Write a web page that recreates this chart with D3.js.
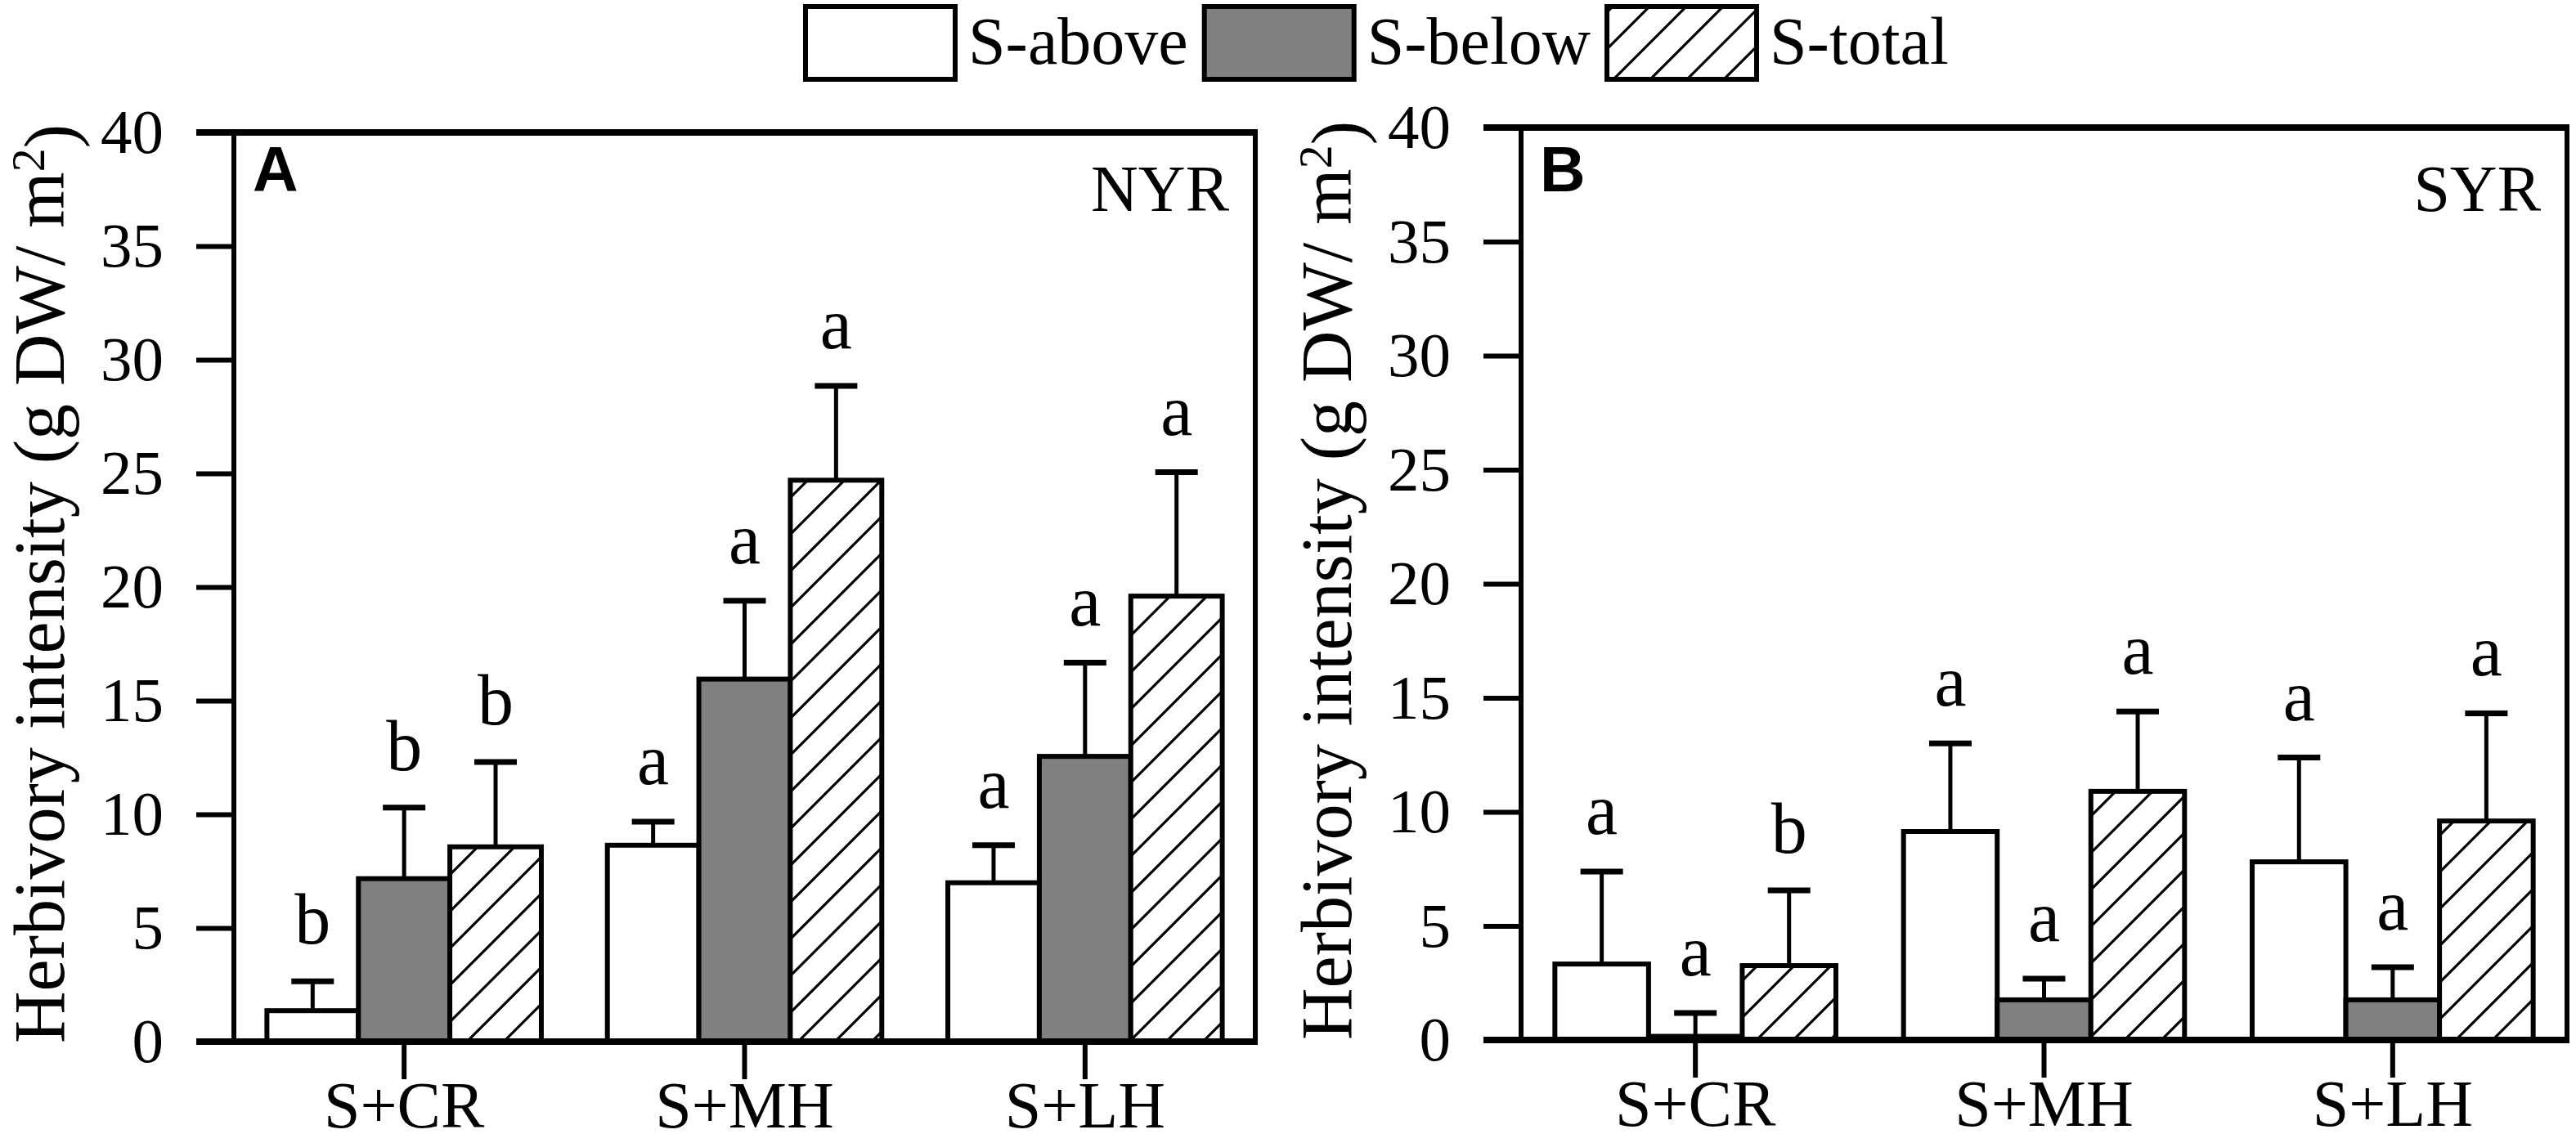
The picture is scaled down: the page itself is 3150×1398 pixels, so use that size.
<!DOCTYPE html>
<html>
<head>
<meta charset="utf-8">
<script src="https://cdn.jsdelivr.net/npm/d3@7"></script>
<style>
  body { margin: 0; background: #fff; }
</style>
</head>
<body>
<div id="chart"></div>
<script>
const categories = ['S+CR', 'S+MH', 'S+LH'];
const seriesNames = ['S-above', 'S-below', 'S-total'];
const yTickValues = [0, 5, 10, 15, 20, 25, 30, 35, 40];

// panel A, NYR
const nyrAbove = [1.36, 8.64, 6.99];
const nyrAboveErr = [1.29, 1.04, 1.65];
const nyrBelow = [7.17, 15.95, 12.55];
const nyrBelowErr = [3.13, 3.45, 4.12];
const nyrTotal = [8.57, 24.7, 19.6];
const nyrTotalErr = [3.73, 4.15, 5.45];
const nyrAboveSig = ['b', 'a', 'a'];
const nyrBelowSig = ['b', 'a', 'a'];
const nyrTotalSig = ['b', 'a', 'a'];

// panel B, SYR
const syrAbove = [3.33, 9.14, 7.81];
const syrAboveErr = [4.05, 3.86, 4.57];
const syrBelow = [0.16, 1.76, 1.76];
const syrBelowErr = [1.02, 0.93, 1.43];
const syrTotal = [3.26, 10.9, 9.6];
const syrTotalErr = [3.3, 3.5, 4.72];
const syrAboveSig = ['a', 'a', 'a'];
const syrBelowSig = ['a', 'a', 'a'];
const syrTotalSig = ['b', 'a', 'a'];

const SERIF = '"Liberation Serif", "Times New Roman", serif';
const SANS = '"Liberation Sans", Arial, sans-serif';
const GREY = '#808080';

function buildRows(means, errs, sigs){
  const rows = [];
  categories.forEach((cat, i) => {
    seriesNames.forEach((s, j) => {
      rows.push({cat: cat, series: s, value: means[j][i], err: errs[j][i], sig: sigs[j][i]});
    });
  });
  return rows;
}

function fillFor(series){
  if (series === 'S-above') return '#fff';
  if (series === 'S-below') return GREY;
  return 'url(#hatch)';
}

class Panel {
  constructor(opts){
    this.svg = opts.svg;
    this.box = opts.box;
    this.rows = opts.rows;
    this.site = opts.site;
    this.tag = opts.tag;
  }

  draw(){
    this.plot = this.svg.append('g');
    this.createScales();
    this.addBars();
    this.addErrors();
    this.addAxes();
    this.addLetters();
    this.addLabels();
  }

  createScales(){
    const b = this.box;
    this.x0 = d3.scaleBand()
                .domain(categories)
                .range([b.left, b.right])
                .paddingInner(0).paddingOuter(0);
    const step = this.x0.bandwidth();
    this.x1 = d3.scaleBand()
                .domain(seriesNames)
                .range([step * 0.097, step * 0.903])
                .paddingInner(0);
    this.y = d3.scaleLinear()
               .domain([0, 40])
               .range([b.bottom, b.top]);
  }

  addBars(){
    this.plot.append('g')
      .selectAll('rect')
      .data(this.rows)
      .join('rect')
      .attr('x', d => this.x0(d.cat) + this.x1(d.series))
      .attr('y', d => this.y(d.value))
      .attr('width', this.x1.bandwidth())
      .attr('height', d => this.y(0) - this.y(d.value))
      .style('fill', d => fillFor(d.series))
      .style('stroke', '#000')
      .style('stroke-width', 6);
  }

  addErrors(){
    const cx = d => this.x0(d.cat) + this.x1(d.series) + this.x1.bandwidth() / 2;
    const g = this.plot.append('g').selectAll('g')
      .data(this.rows)
      .join('g');

    g.append('line')
      .attr('x1', cx).attr('x2', cx)
      .attr('y1', d => this.y(d.value))
      .attr('y2', d => this.y(d.value + d.err))
      .style('stroke', '#000')
      .style('stroke-width', 5);

    g.append('line')
      .attr('x1', d => cx(d) - 26).attr('x2', d => cx(d) + 26)
      .attr('y1', d => this.y(d.value + d.err))
      .attr('y2', d => this.y(d.value + d.err))
      .style('stroke', '#000')
      .style('stroke-width', 7);
  }

  addAxes(){
    const b = this.box;

    const yAxis = d3.axisLeft(this.y)
                    .tickValues(yTickValues)
                    .tickSize(46)
                    .tickPadding(40)
                    .tickFormat(d3.format('d'));

    const gy = this.plot.append('g')
      .attr('transform', `translate(${b.left},0)`)
      .call(yAxis);
    gy.select('.domain').remove();
    gy.selectAll('.tick line').style('stroke', '#000').style('stroke-width', 6);
    gy.selectAll('.tick text')
      .style('font-family', SERIF)
      .style('font-size', '77px')
      .style('fill', '#000');

    const xAxis = d3.axisBottom(this.x0)
                    .tickSize(46)
                    .tickPadding(2);

    const gx = this.plot.append('g')
      .attr('transform', `translate(0,${b.bottom})`)
      .call(xAxis);
    gx.select('.domain').remove();
    gx.selectAll('.tick line').style('stroke', '#000').style('stroke-width', 6);
    gx.selectAll('.tick text')
      .style('font-family', SERIF)
      .style('font-size', '80px')
      .style('fill', '#000');

    // frame: thick top and bottom, thinner sides
    const frame = this.plot.append('g').style('stroke', '#000');
    frame.append('line')
      .attr('x1', b.left - 46).attr('x2', b.right + 3)
      .attr('y1', b.top).attr('y2', b.top)
      .style('stroke-width', 8);
    frame.append('line')
      .attr('x1', b.left - 46).attr('x2', b.right + 3)
      .attr('y1', b.bottom).attr('y2', b.bottom)
      .style('stroke-width', 8);
    frame.append('line')
      .attr('x1', b.left).attr('x2', b.left)
      .attr('y1', b.top).attr('y2', b.bottom)
      .style('stroke-width', 6);
    frame.append('line')
      .attr('x1', b.right).attr('x2', b.right)
      .attr('y1', b.top).attr('y2', b.bottom)
      .style('stroke-width', 6);

    const title = this.plot.append('text')
      .attr('transform', `translate(${b.left - 208},${(b.top + b.bottom) / 2 - 4}) rotate(-90)`)
      .style('text-anchor', 'middle')
      .style('font-family', SERIF)
      .style('font-size', '88px')
      .style('fill', '#000');
    title.append('tspan').text('Herbivory intensity (g DW/ m');
    title.append('tspan')
      .attr('dy', '-0.42em')
      .style('font-size', '58px')
      .text('2');
    title.append('tspan')
      .attr('dy', '0.42em')
      .text(')');
  }

  addLetters(){
    this.plot.append('g')
      .selectAll('text')
      .data(this.rows)
      .join('text')
      .attr('x', d => this.x0(d.cat) + this.x1(d.series) + this.x1.bandwidth() / 2)
      .attr('y', d => this.y(d.value + d.err) - 46)
      .style('text-anchor', 'middle')
      .style('font-family', SERIF)
      .style('font-size', '88px')
      .style('fill', '#000')
      .text(d => d.sig);
  }

  addLabels(){
    const b = this.box;
    this.plot.append('text')
      .attr('x', b.left + 23)
      .attr('y', 234)
      .style('font-family', SANS)
      .style('font-weight', 'bold')
      .style('font-size', '77px')
      .style('fill', '#000')
      .text(this.tag);

    this.plot.append('text')
      .attr('x', b.right - 32)
      .attr('y', 258)
      .style('text-anchor', 'end')
      .style('font-family', SERIF)
      .style('font-size', '80px')
      .style('fill', '#000')
      .text(this.site);
  }
}

const svg = d3.select('#chart').append('svg')
  .attr('width', 3150)
  .attr('height', 1398)
  .style('background', '#fff');

const defs = svg.append('defs');
const pat = defs.append('pattern')
  .attr('id', 'hatch')
  .attr('patternUnits', 'userSpaceOnUse')
  .attr('width', 45)
  .attr('height', 45);
pat.append('rect').attr('width', 45).attr('height', 45).style('fill', '#fff');
pat.append('path')
  .attr('d', 'M0,45 L45,0 M-10,10 L10,-10 M35,55 L55,35')
  .style('stroke', '#000')
  .style('stroke-width', 3.2);

// legend
const legend = svg.append('g');
let lx = 985;
seriesNames.forEach(s => {
  legend.append('rect')
    .attr('x', lx).attr('y', 8)
    .attr('width', 183).attr('height', 89)
    .style('fill', fillFor(s))
    .style('stroke', '#000')
    .style('stroke-width', 6);
  const t = legend.append('text')
    .attr('x', lx + 199).attr('y', 78)
    .style('font-family', SERIF)
    .style('font-size', '82px')
    .style('fill', '#000')
    .text(s);
  lx += 199 + t.node().getComputedTextLength() + 20;
});

new Panel({
  svg: svg,
  box: {left: 286, right: 1535, top: 162, bottom: 1274},
  rows: buildRows([nyrAbove, nyrBelow, nyrTotal],
                  [nyrAboveErr, nyrBelowErr, nyrTotalErr],
                  [nyrAboveSig, nyrBelowSig, nyrTotalSig]),
  site: 'NYR',
  tag: 'A'
}).draw();

new Panel({
  svg: svg,
  box: {left: 1860, right: 3139, top: 156, bottom: 1272},
  rows: buildRows([syrAbove, syrBelow, syrTotal],
                  [syrAboveErr, syrBelowErr, syrTotalErr],
                  [syrAboveSig, syrBelowSig, syrTotalSig]),
  site: 'SYR',
  tag: 'B'
}).draw();
</script>
</body>
</html>
